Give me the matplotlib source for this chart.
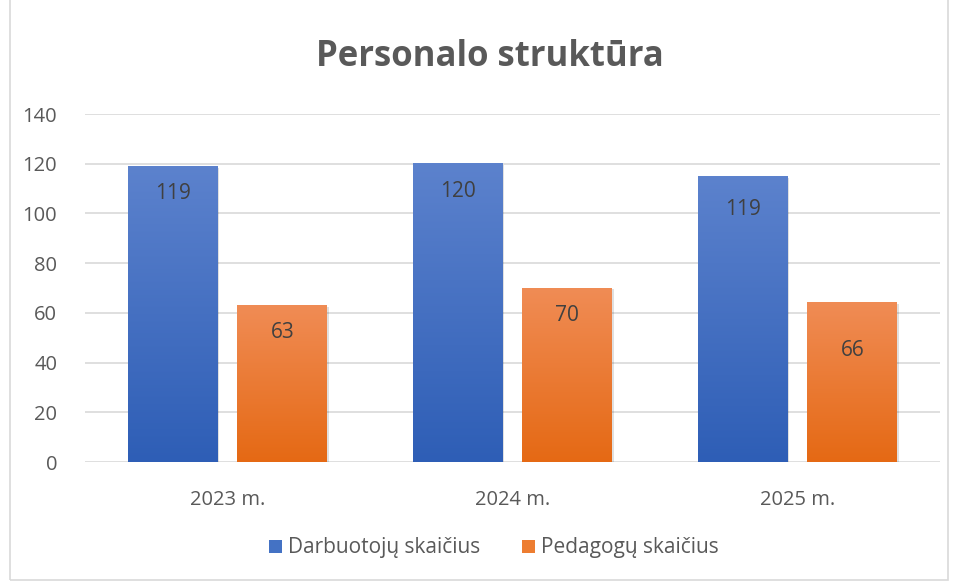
import numpy as np
import matplotlib
matplotlib.use("Agg")
import matplotlib.pyplot as plt
from matplotlib.colors import LinearSegmentedColormap
from matplotlib.patches import Rectangle, Patch

# data
years = ["2023 m.", "2024 m.", "2025 m."]
darbuotoju = [119, 120, 115]
pedagogu = [63, 70, 64]
# the labels printed on the bars (not always equal to the bar height)
darbuotoju_labels = ["119", "120", "119"]
pedagogu_labels = ["63", "70", "66"]
series_names = ["Darbuotojų skaičius", "Pedagogų skaičius"]

# where the labels sit in the reference (data units)
darbuotoju_label_y = [108, 109, 101.5]
pedagogu_label_y = [52, 59, 45]

plt.rcParams['font.family'] = ['Open Sans', 'DejaVu Sans']

fig = plt.figure(figsize=(9.58, 5.81), dpi=100)
ax = fig.add_axes([85 / 958, 1 - 462 / 581, 855 / 958, 348 / 581])

blue_cmap = LinearSegmentedColormap.from_list("b", ["#2E5EB6", "#5C82CD"])
orange_cmap = LinearSegmentedColormap.from_list("o", ["#E56914", "#F08C55"])

x = np.arange(len(years))
width = 0.315
gap = 0.07
grad = np.linspace(0, 1, 256).reshape(-1, 1)


def gradient_bars(xs, vals, cmap):
    bars = ax.bar(xs, vals, width, color="none", zorder=3)
    for b in bars:
        x0, y0 = b.get_x(), b.get_y()
        w, h = b.get_width(), b.get_height()
        # soft shadow
        ax.add_patch(Rectangle((x0 + 0.006, y0 - 0.6), w, h, color="#000000",
                               alpha=0.12, zorder=2, lw=0))
        ax.imshow(grad, cmap=cmap, origin="lower", aspect="auto",
                  extent=[x0, x0 + w, y0, y0 + h], zorder=3)
    return bars


b1 = gradient_bars(x - (width + gap) / 2, darbuotoju, blue_cmap)
b2 = gradient_bars(x + (width + gap) / 2, pedagogu, orange_cmap)

for bars, labels, ys in ((b1, darbuotoju_labels, darbuotoju_label_y),
                         (b2, pedagogu_labels, pedagogu_label_y)):
    for b, lab, yy in zip(bars, labels, ys):
        ax.text(b.get_x() + b.get_width() / 2, yy, lab,
                ha="center", va="center", fontsize=15, color="#404040", zorder=4)

ax.set_xlim(-0.5, 2.5)
ax.set_ylim(0, 140)
ax.set_yticks(range(0, 141, 20))
ax.set_xticks(x)
ax.set_xticklabels(years)
ax.grid(axis="y", color="#D9D9D9", lw=1.2, zorder=0)
ax.set_axisbelow(True)
for s in ax.spines.values():
    s.set_visible(False)
ax.tick_params(axis="both", length=0, labelsize=14.5, colors="#595959")
ax.tick_params(axis="x", pad=20)
ax.tick_params(axis="y", pad=20)

fig.text(490 / 958, 1 - 57 / 581, "Personalo struktūra", ha="center", va="center",
         fontsize=25, fontweight="bold", color="#595959")

handles = [Patch(facecolor="#4472C4"), Patch(facecolor="#ED7D31")]
fig.legend(handles, series_names, loc="center", bbox_to_anchor=(494 / 958, 1 - 548 / 581),
           ncol=2, frameon=False, fontsize=15, labelcolor="#595959",
           handlelength=0.6, handleheight=0.6, handletextpad=0.3, columnspacing=2.0)

# chart border
fig.add_artist(Rectangle((10 / 958, 0.002), 1 - 20 / 958, 1.2, transform=fig.transFigure,
                         fill=False, edgecolor="#D9D9D9", lw=1.2))

fig.savefig("out.png", dpi=100, facecolor="white")
